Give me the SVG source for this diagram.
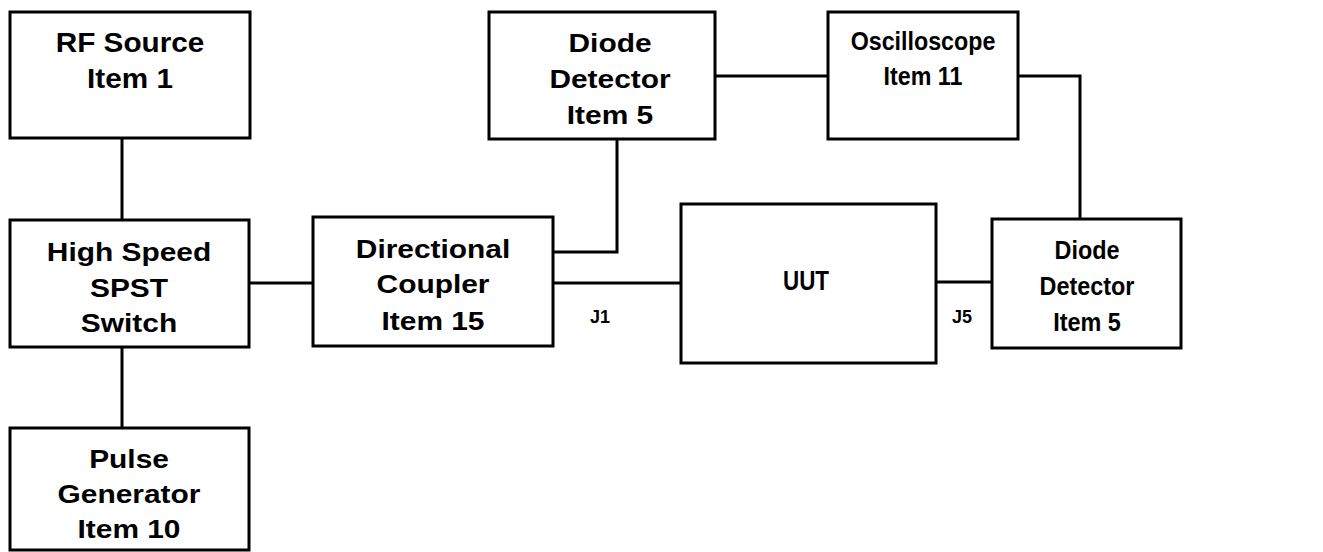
<svg xmlns="http://www.w3.org/2000/svg" width="1323" height="552" viewBox="0 0 1323 552">
<style>
.box{fill:#fff;stroke:#000;stroke-width:3}
.lbl{font-family:"Liberation Sans",Arial,sans-serif;font-weight:bold;font-size:26px;fill:#000;text-anchor:middle}
.sm{font-family:"Liberation Sans",Arial,sans-serif;font-weight:bold;font-size:18px;fill:#000;text-anchor:middle}
.wire{fill:none;stroke:#000;stroke-width:3}
</style>
<rect width="1323" height="552" fill="#fff"/>
<g id="connectors">
<line class="wire" x1="122" y1="138" x2="122" y2="220"/>
<line class="wire" x1="122" y1="347" x2="122" y2="428"/>
<line class="wire" x1="249" y1="283" x2="313" y2="283"/>
<polyline class="wire" points="553,252 617,252 617,139"/>
<line class="wire" x1="553" y1="283" x2="681" y2="283"/>
<line class="wire" x1="715" y1="76" x2="828" y2="76"/>
<polyline class="wire" points="1018,76 1080,76 1080,219"/>
<line class="wire" x1="936" y1="282" x2="992" y2="282"/>
</g>
<g id="rf-source">
<rect class="box" x="10" y="12" width="240" height="126"/>
<g class="lbl" style="font-size:27px" transform="translate(130,0) scale(1.1,1)"><text x="0" y="52">RF Source</text><text x="0" y="88">Item 1</text></g>
</g>
<g id="spst-switch">
<rect class="box" x="10" y="220" width="239" height="127"/>
<g class="lbl" transform="translate(129,0) scale(1.15,1)"><text x="0" y="261">High Speed</text><text x="0" y="297">SPST</text><text x="0" y="332">Switch</text></g>
</g>
<g id="pulse-generator">
<rect class="box" x="10" y="428" width="239" height="122"/>
<g class="lbl" transform="translate(129,0) scale(1.15,1)"><text x="0" y="468">Pulse</text><text x="0" y="503">Generator</text><text x="0" y="538">Item 10</text></g>
</g>
<g id="directional-coupler">
<rect class="box" x="313" y="217" width="240" height="129"/>
<g class="lbl" transform="translate(433,0) scale(1.15,1)"><text x="0" y="258">Directional</text><text x="0" y="293">Coupler</text><text x="0" y="330">Item 15</text></g>
</g>
<g id="diode-detector-1">
<rect class="box" x="489" y="12" width="226" height="127"/>
<g class="lbl" transform="translate(610,0) scale(1.15,1)"><text x="0" y="52">Diode</text><text x="0" y="88">Detector</text><text x="0" y="124">Item 5</text></g>
</g>
<g id="oscilloscope">
<rect class="box" x="828" y="12" width="190" height="127"/>
<g class="lbl" style="font-size:25px" transform="translate(923,0) scale(0.93,1)"><text x="0" y="50">Oscilloscope</text><text x="0" y="85">Item 11</text></g>
</g>
<g id="uut">
<rect class="box" x="681" y="204" width="255" height="159"/>
<g class="lbl" style="font-size:28px" transform="translate(806,0) scale(0.8,1)"><text x="0" y="290">UUT</text></g>
</g>
<g id="diode-detector-2">
<rect class="box" x="992" y="219" width="189" height="129"/>
<g class="lbl" transform="translate(1087,0) scale(0.9,1)"><text x="0" y="259">Diode</text><text x="0" y="295">Detector</text><text x="0" y="331">Item 5</text></g>
</g>
<g id="port-labels">
<text class="sm" x="600" y="323">J1</text>
<text class="sm" x="962" y="323">J5</text>
</g>
</svg>
